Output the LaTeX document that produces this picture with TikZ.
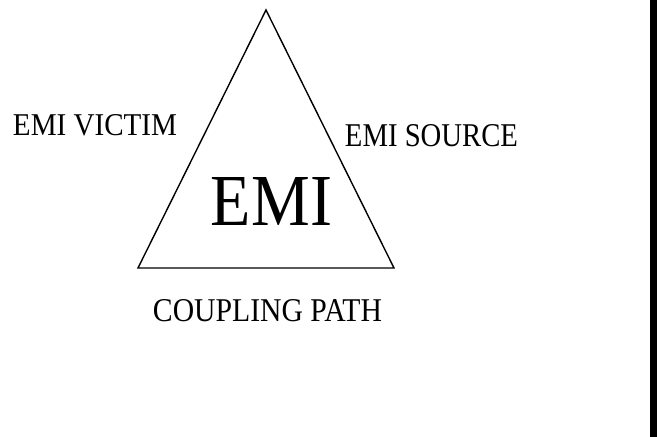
\documentclass[tikz,border=0pt]{standalone}
\usepackage{fontspec}
\setmainfont{Liberation Serif}
\usepackage{graphicx}
\begin{document}
\begin{tikzpicture}[x=1pt,y=-1pt,
  lbl/.style={inner sep=0pt,outer sep=0pt,anchor=center},
  edge/.style={line width=1.4pt,line join=miter}]
\useasboundingbox (0,0) rectangle (657,437);
\fill[white] (0,0) rectangle (657,437);
\fill[black] (650,0) rectangle (657,437);
\coordinate (apex) at (266,10);
\coordinate (bl) at (138,268);
\coordinate (br) at (394,268);
\draw[edge] (apex) -- (bl) -- (br) -- cycle;
\node[lbl] (victim) at (95,125.5) {\resizebox{164pt}{21pt}{EMI VICTIM}};
\node[lbl] (source) at (431.5,136) {\resizebox{173pt}{22pt}{EMI SOURCE}};
\node[lbl] (path) at (267.5,311) {\resizebox{229pt}{22pt}{COUPLING PATH}};
\node[lbl] (emi) at (271.5,201) {\resizebox{121pt}{48pt}{EMI}};
\end{tikzpicture}
\end{document}
